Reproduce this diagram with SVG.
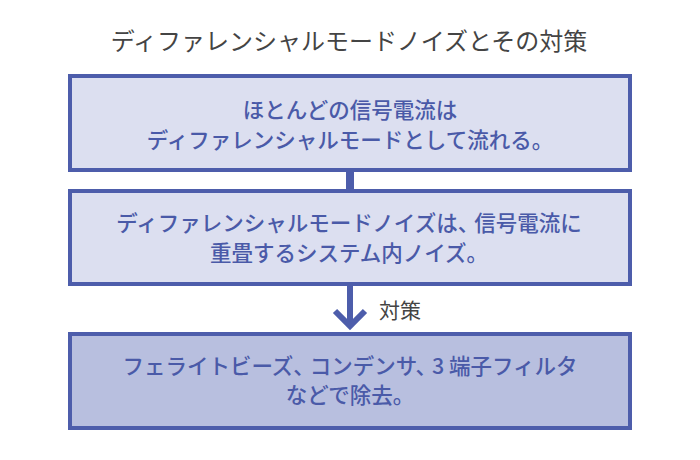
<svg xmlns="http://www.w3.org/2000/svg" width="700" height="460" viewBox="0 0 700 460">
<style>
.box{stroke:#4d5dab;stroke-width:4}
.b1{fill:#dcdff0}
.b3{fill:#b8bfdf}
.t{font-family:"Noto Sans CJK JP","Noto Sans",sans-serif;font-size:21.5px;font-weight:500;fill:#4a5aa8;text-anchor:middle}
.title{font-family:"Noto Sans CJK JP","Noto Sans",sans-serif;font-size:24px;fill:#444;text-anchor:middle}
.lbl{font-family:"Noto Sans CJK JP","Noto Sans",sans-serif;font-size:21px;fill:#444}
.con{stroke:#4d5dab;fill:none}
</style>
<rect width="700" height="460" fill="#fff"/>
<text class="title" x="349" y="50">ディファレンシャルモードノイズとその対策</text>
<g id="connectors">
<line class="con" x1="350" y1="170" x2="350" y2="191" stroke-width="8"/>
<line class="con" x1="350" y1="286" x2="350" y2="325" stroke-width="6"/>
<polyline class="con" points="335,311 350,326 365,311" stroke-width="6" stroke-linejoin="miter"/>
<text class="lbl" x="379" y="318">対策</text>
</g>
<g id="node1">
<rect class="box b1" x="70" y="76" width="560" height="94"/>
<text class="t" x="350" y="118">ほとんどの信号電流は</text>
<text class="t" x="350" y="148">ディファレンシャルモードとして流れる。</text>
</g>
<g id="node2">
<rect class="box b1" x="70" y="191" width="560" height="93"/>
<text class="t" x="349" y="231">ディファレンシャルモードノイズは、<tspan dx="-5">信号電流に</tspan></text>
<text class="t" x="349" y="261">重畳するシステム内ノイズ。</text>
</g>
<g id="node3">
<rect class="box b3" x="70" y="334" width="560" height="94"/>
<text class="t" x="350" y="374">フェライトビーズ、<tspan dx="-5">コンデンサ、</tspan><tspan dx="-5">3 端子フィルタ</tspan></text>
<text class="t" x="350" y="403">などで除去。</text>
</g>
</svg>
